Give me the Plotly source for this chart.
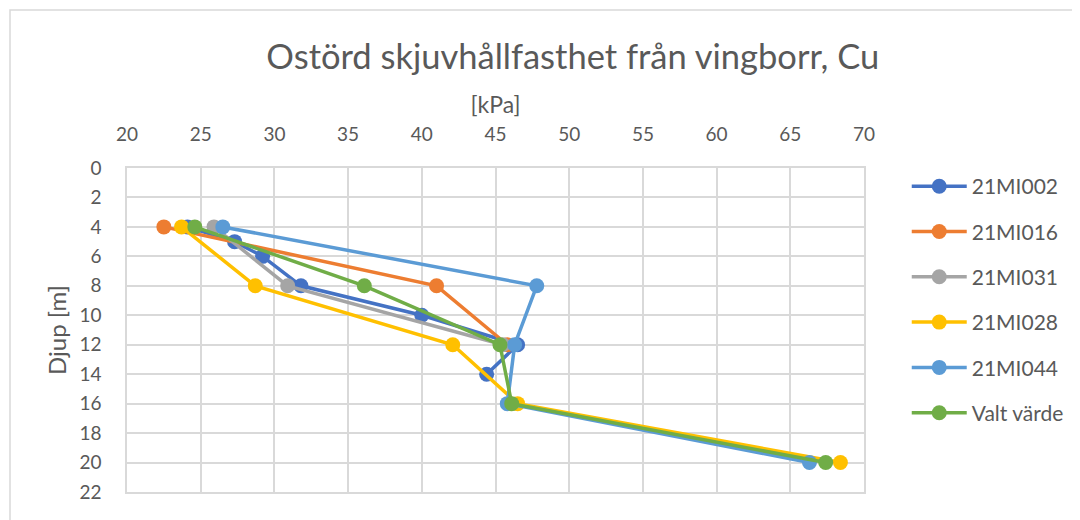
import plotly.graph_objects as go

# vane test shear strength [kPa] vs depth [m]
mi002_cu = [24.1, 27.3, 29.2, 31.8, 40.0, 46.5, 44.4]
mi002_depth = [4, 5, 6, 8, 10, 12, 14]

mi016_cu = [22.5, 41.0, 45.8]
mi016_depth = [4, 8, 12]

mi031_cu = [25.9, 30.9, 45.5]
mi031_depth = [4, 8, 12]

mi028_cu = [23.7, 28.7, 42.1, 46.5, 68.4]
mi028_depth = [4, 8, 12, 16, 20]

mi044_cu = [26.5, 47.8, 46.3, 45.8, 66.3]
mi044_depth = [4, 8, 12, 16, 20]

valt_cu = [24.6, 36.1, 45.3, 46.1, 67.4]
valt_depth = [4, 8, 12, 16, 20]

series = [
    ("21MI002", mi002_cu, mi002_depth, "#4472C4"),
    ("21MI016", mi016_cu, mi016_depth, "#ED7D31"),
    ("21MI031", mi031_cu, mi031_depth, "#A5A5A5"),
    ("21MI028", mi028_cu, mi028_depth, "#FFC000"),
    ("21MI044", mi044_cu, mi044_depth, "#5B9BD5"),
    ("Valt värde", valt_cu, valt_depth, "#70AD47"),
]

FONT = "Lato"
GREY = "#595959"

fig = go.Figure()
for name, cu, depth, col in series:
    fig.add_trace(go.Scatter(
        x=cu, y=depth, name=name, mode="lines+markers",
        line=dict(color=col, width=3.5),
        marker=dict(color=col, size=15),
        legendgroup=name,
    ))

# page body has an 8px margin, so the figure sits 8px right/down
fig.update_layout(
    width=1080, height=520,
    paper_bgcolor="white", plot_bgcolor="white",
    margin=dict(l=119, r=224, t=160, b=36),
    font=dict(family=FONT, color=GREY, size=19),
    title=dict(text="Ostörd skjuvhållfasthet från vingborr, Cu",
               x=0.523, xanchor="center", y=1 - 49 / 520, yanchor="middle",
               font=dict(size=34.5, color=GREY, family=FONT)),
    legend=dict(x=1.058, xanchor="left", y=1.006, yanchor="top",
                font=dict(size=21, color=GREY),
                traceorder="grouped", tracegroupgap=15,
                itemwidth=55, maxheight=1),
    showlegend=True,
)

fig.update_xaxes(
    side="top", range=[20, 70], dtick=5, tick0=20,
    showgrid=True, gridcolor="#D9D9D9", gridwidth=1.5,
    showline=True, linecolor="#D9D9D9", linewidth=1.5, mirror=True,
    zeroline=False,
    ticks="outside", ticklen=18, tickcolor="rgba(0,0,0,0)",
    tickfont=dict(size=19, color=GREY),
    title=dict(text="[kPa]", standoff=2, font=dict(size=23, color=GREY)),
)
fig.update_yaxes(
    range=[22, 0], dtick=2, tick0=0,
    showgrid=True, gridcolor="#D9D9D9", gridwidth=1.5,
    showline=True, linecolor="#D9D9D9", linewidth=1.5, mirror=True,
    zeroline=False,
    ticks="outside", ticklen=20, tickcolor="rgba(0,0,0,0)",
    tickfont=dict(size=19, color=GREY),
    title=dict(text="Djup [m]", standoff=6, font=dict(size=24, color=GREY)),
)

# outer chart frame
fig.add_shape(type="rect", xref="paper", yref="paper",
              x0=(2 - 119) / 737, x1=(1079 - 119) / 737,
              y0=-(519 - 484) / 324, y1=(484 - 2) / 324,
              line=dict(color="#D9D9D9", width=1.5), fillcolor="rgba(0,0,0,0)",
              layer="below")

fig.write_html("out.html")
